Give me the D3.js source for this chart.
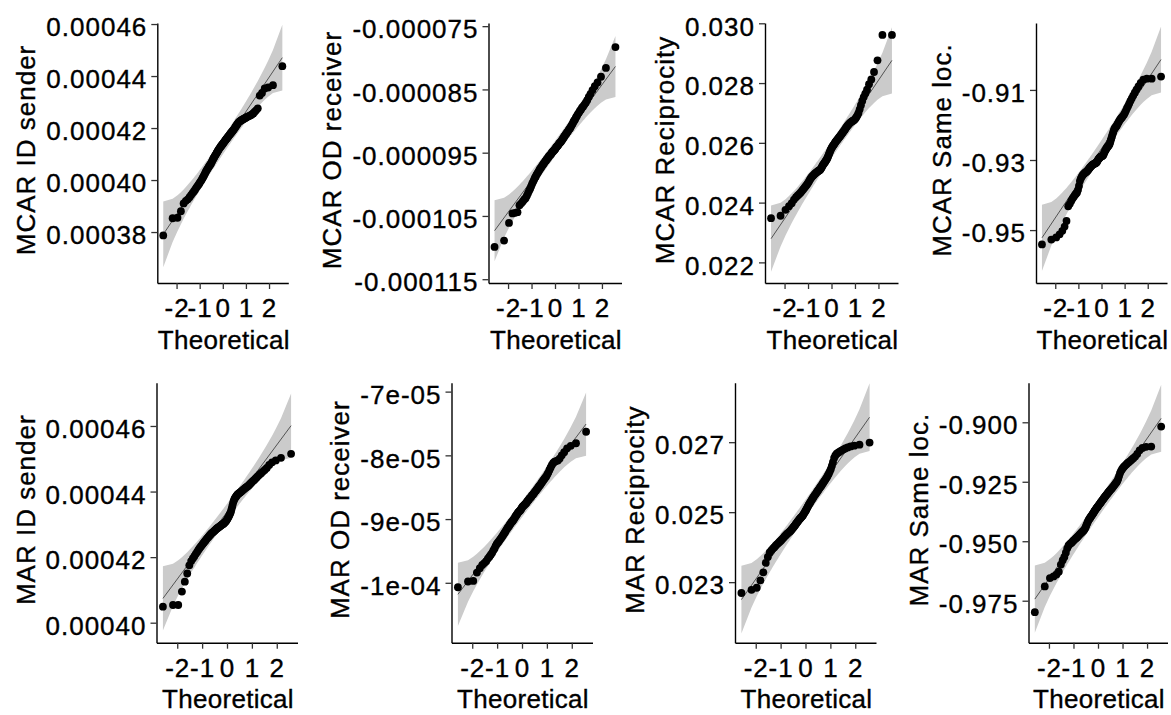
<!DOCTYPE html>
<html>
<head>
<meta charset="utf-8">
<title>Normal QQ plots, MCAR and MAR</title>
<script src="https://d3js.org/d3.v7.min.js"></script>
<style>
  body { margin: 0; background: #fff; }
  svg { display: block; background: #fff; }
  text { font-family: "Liberation Sans", Arial, sans-serif; fill: #000; }
</style>
</head>
<body>
<svg id="chart" width="1171" height="715"></svg>

<script>
// sample values, sorted, 100 per panel
// (the *_1e6 arrays are in units of 1e-6)
const mcarIdSender_1e6 = [
  378.7,385.3,385.5,388.0,391.0,392.0,392.6,393.4,394.2,395.0,
  395.6,396.3,397.0,397.6,398.1,398.7,399.3,399.8,400.4,401.0,
  401.6,402.2,402.8,403.4,403.9,404.3,404.8,405.2,405.6,406.0,
  406.4,406.9,407.4,407.9,408.4,408.8,409.2,409.6,410.0,410.4,
  410.8,411.2,411.6,411.9,412.3,412.6,412.9,413.2,413.5,413.8,
  414.1,414.4,414.7,415.0,415.3,415.6,415.9,416.2,416.5,416.8,
  417.1,417.4,417.7,418.0,418.3,418.6,418.9,419.2,419.5,419.9,
  420.3,420.7,421.1,421.5,421.9,422.3,422.5,422.7,422.9,423.1,
  423.3,423.5,423.7,423.9,424.1,424.3,424.5,424.7,424.9,425.2,
  425.6,426.2,426.8,427.6,432.5,433.5,435.2,435.6,436.5,443.8
];
const mcarOdReceiver_1e6 = [
  -109.9,-108.9,-106.1,-104.6,-104.5,-104.4,-103.3,-103.0,-102.7,-102.4,
  -102.2,-101.8,-101.4,-101.0,-100.7,-100.3,-99.9,-99.6,-99.3,-99.0,
  -98.8,-98.5,-98.3,-98.1,-97.9,-97.7,-97.5,-97.4,-97.2,-97.0,
  -96.9,-96.7,-96.6,-96.4,-96.3,-96.2,-96.0,-95.9,-95.8,-95.6,
  -95.5,-95.4,-95.3,-95.2,-95.0,-94.9,-94.8,-94.7,-94.6,-94.5,
  -94.4,-94.2,-94.1,-94.0,-93.9,-93.8,-93.6,-93.5,-93.4,-93.3,
  -93.2,-93.0,-92.9,-92.7,-92.6,-92.4,-92.3,-92.1,-92.0,-91.8,
  -91.7,-91.5,-91.3,-91.2,-91.0,-90.8,-90.6,-90.4,-90.1,-89.9,
  -89.7,-89.4,-89.2,-88.9,-88.7,-88.4,-88.2,-87.9,-87.7,-87.4,
  -87.1,-86.7,-86.2,-85.7,-85.1,-84.5,-83.9,-83.0,-81.6,-78.3
];
const mcarReciprocity = [
  0.02348,0.02356,0.02376,0.02388,0.02398,0.02410,0.02418,0.02424,0.02429,0.02434,
  0.02440,0.02445,0.02450,0.02455,0.02459,0.02464,0.02469,0.02475,0.02480,0.02484,
  0.02488,0.02490,0.02493,0.02496,0.02498,0.02500,0.02502,0.02504,0.02506,0.02507,
  0.02508,0.02510,0.02513,0.02517,0.02521,0.02525,0.02528,0.02531,0.02534,0.02537,
  0.02540,0.02543,0.02547,0.02551,0.02556,0.02561,0.02566,0.02571,0.02576,0.02580,
  0.02584,0.02587,0.02590,0.02593,0.02596,0.02599,0.02602,0.02605,0.02607,0.02610,
  0.02612,0.02615,0.02618,0.02620,0.02623,0.02626,0.02629,0.02632,0.02635,0.02638,
  0.02641,0.02644,0.02648,0.02652,0.02655,0.02658,0.02661,0.02664,0.02667,0.02669,
  0.02671,0.02673,0.02675,0.02677,0.02681,0.02686,0.02692,0.02700,0.02712,0.02726,
  0.02740,0.02753,0.02765,0.02778,0.02796,0.02812,0.02837,0.02876,0.02961,0.02961
];
const mcarSameLoc = [
  -0.9541,-0.9527,-0.9521,-0.9512,-0.9502,-0.9490,-0.9474,-0.9432,-0.9425,-0.9417,
  -0.9410,-0.9405,-0.9400,-0.9396,-0.9393,-0.9385,-0.9374,-0.9360,-0.9353,-0.9348,
  -0.9344,-0.9341,-0.9339,-0.9337,-0.9335,-0.9334,-0.9332,-0.9330,-0.9327,-0.9325,
  -0.9322,-0.9320,-0.9318,-0.9316,-0.9314,-0.9313,-0.9312,-0.9311,-0.9310,-0.9309,
  -0.9308,-0.9307,-0.9304,-0.9301,-0.9298,-0.9296,-0.9294,-0.9292,-0.9291,-0.9290,
  -0.9289,-0.9288,-0.9287,-0.9284,-0.9280,-0.9276,-0.9273,-0.9270,-0.9267,-0.9264,
  -0.9262,-0.9260,-0.9258,-0.9255,-0.9250,-0.9244,-0.9238,-0.9232,-0.9226,-0.9220,
  -0.9214,-0.9210,-0.9207,-0.9205,-0.9202,-0.9198,-0.9194,-0.9190,-0.9186,-0.9183,
  -0.9180,-0.9177,-0.9174,-0.9170,-0.9165,-0.9159,-0.9152,-0.9146,-0.9139,-0.9131,
  -0.9124,-0.9116,-0.9108,-0.9099,-0.9090,-0.9080,-0.9071,-0.9068,-0.9068,-0.9062
];
const marIdSender_1e6 = [
  404.9,405.4,405.4,409.5,412.5,415.0,417.5,418.8,419.6,420.3,
  421.0,421.6,422.2,422.7,423.2,423.6,424.0,424.4,424.8,425.1,
  425.5,425.8,426.1,426.4,426.7,426.9,427.2,427.4,427.6,427.8,
  428.0,428.2,428.4,428.6,428.8,428.9,429.1,429.2,429.4,429.5,
  429.7,429.8,430.0,430.1,430.2,430.4,430.6,430.8,431.0,431.3,
  431.6,431.9,432.3,432.7,433.1,433.5,434.1,434.8,435.6,436.4,
  437.1,437.6,438.0,438.3,438.6,438.9,439.1,439.3,439.5,439.6,
  439.8,440.0,440.2,440.4,440.6,440.8,441.0,441.2,441.4,441.6,
  441.8,442.1,442.4,442.7,443.0,443.3,443.6,444.0,444.4,444.8,
  445.2,445.6,446.1,446.6,447.2,448.1,448.9,449.5,450.3,451.5
];
const marOdReceiver_1e6 = [
  -100.7,-99.8,-99.7,-98.4,-97.7,-97.2,-96.9,-96.6,-96.2,-95.9,
  -95.6,-95.3,-94.9,-94.6,-94.2,-93.9,-93.7,-93.5,-93.3,-93.1,
  -92.9,-92.7,-92.5,-92.3,-92.1,-91.9,-91.7,-91.5,-91.3,-91.2,
  -91.0,-90.8,-90.7,-90.5,-90.4,-90.3,-90.1,-90.0,-89.8,-89.6,
  -89.5,-89.3,-89.2,-89.0,-88.9,-88.8,-88.7,-88.6,-88.4,-88.3,
  -88.1,-88.0,-87.9,-87.8,-87.7,-87.6,-87.5,-87.4,-87.2,-87.1,
  -87.0,-86.8,-86.7,-86.6,-86.5,-86.3,-86.2,-86.1,-85.9,-85.8,
  -85.6,-85.5,-85.3,-85.2,-85.0,-84.8,-84.7,-84.5,-84.3,-84.1,
  -83.9,-83.7,-83.5,-83.3,-83.0,-82.7,-82.3,-81.9,-81.5,-81.2,
  -81.0,-80.9,-80.8,-80.5,-80.0,-79.5,-78.9,-78.5,-78.1,-76.3
];
const marReciprocity = [
  0.02269,0.02278,0.02284,0.02305,0.02328,0.02355,0.02372,0.02385,0.02391,0.02396,
  0.02400,0.02404,0.02408,0.02411,0.02414,0.02417,0.02420,0.02423,0.02426,0.02429,
  0.02432,0.02434,0.02437,0.02439,0.02441,0.02443,0.02445,0.02447,0.02450,0.02452,
  0.02455,0.02457,0.02460,0.02462,0.02465,0.02468,0.02470,0.02473,0.02475,0.02478,
  0.02480,0.02482,0.02484,0.02486,0.02488,0.02490,0.02493,0.02496,0.02499,0.02502,
  0.02505,0.02508,0.02512,0.02515,0.02519,0.02522,0.02525,0.02528,0.02531,0.02534,
  0.02537,0.02540,0.02543,0.02546,0.02549,0.02551,0.02554,0.02557,0.02560,0.02563,
  0.02566,0.02569,0.02572,0.02575,0.02578,0.02582,0.02585,0.02589,0.02592,0.02596,
  0.02600,0.02605,0.02610,0.02616,0.02623,0.02632,0.02643,0.02655,0.02662,0.02667,
  0.02670,0.02673,0.02676,0.02679,0.02682,0.02685,0.02688,0.02690,0.02693,0.02699
];
const marSameLoc = [
  -0.9798,-0.9690,-0.9655,-0.9648,-0.9640,-0.9628,-0.9598,-0.9580,-0.9566,-0.9548,
  -0.9530,-0.9518,-0.9512,-0.9508,-0.9504,-0.9499,-0.9495,-0.9491,-0.9487,-0.9484,
  -0.9480,-0.9476,-0.9472,-0.9469,-0.9465,-0.9462,-0.9459,-0.9456,-0.9453,-0.9448,
  -0.9442,-0.9435,-0.9428,-0.9421,-0.9414,-0.9409,-0.9405,-0.9401,-0.9397,-0.9393,
  -0.9389,-0.9385,-0.9381,-0.9377,-0.9373,-0.9369,-0.9365,-0.9361,-0.9358,-0.9355,
  -0.9351,-0.9347,-0.9344,-0.9340,-0.9337,-0.9333,-0.9330,-0.9326,-0.9322,-0.9319,
  -0.9315,-0.9312,-0.9308,-0.9305,-0.9301,-0.9298,-0.9294,-0.9291,-0.9287,-0.9284,
  -0.9280,-0.9277,-0.9273,-0.9269,-0.9265,-0.9260,-0.9256,-0.9252,-0.9246,-0.9237,
  -0.9226,-0.9214,-0.9205,-0.9198,-0.9192,-0.9187,-0.9182,-0.9177,-0.9172,-0.9168,
  -0.9163,-0.9157,-0.9151,-0.9144,-0.9133,-0.9118,-0.9108,-0.9103,-0.9102,-0.9018
];

const panelTitles = ["MCAR ID sender", "MCAR OD receiver", "MCAR Reciprocity", "MCAR Same loc.",
                     "MAR ID sender", "MAR OD receiver", "MAR Reciprocity", "MAR Same loc."];

// y axis limits as shown in the picture
const yLimits = [
  [0.0003604, 0.0004604], [-0.0001156, -0.0000745], [0.02131, 0.03001], [-0.9651, -0.8909],
  [0.0003939, 0.0004732], [-0.0001094, -0.0000686], [0.02127, 0.0287], [-0.99265, -0.88336]
];
const yTickValues = [
  [0.00038, 0.0004, 0.00042, 0.00044, 0.00046],
  [-0.000115, -0.000105, -0.000095, -0.000085, -0.000075],
  [0.022, 0.024, 0.026, 0.028, 0.030],
  [-0.95, -0.93, -0.91],
  [0.0004, 0.00042, 0.00044, 0.00046],
  [-1e-4, -9e-5, -8e-5, -7e-5],
  [0.023, 0.025, 0.027],
  [-0.975, -0.95, -0.925, -0.9]
];
const yTickLabels = [
  ["0.00038", "0.00040", "0.00042", "0.00044", "0.00046"],
  ["-0.000115", "-0.000105", "-0.000095", "-0.000085", "-0.000075"],
  ["0.022", "0.024", "0.026", "0.028", "0.030"],
  ["-0.95", "-0.93", "-0.91"],
  ["0.00040", "0.00042", "0.00044", "0.00046"],
  ["-1e-04", "-9e-05", "-8e-05", "-7e-05"],
  ["0.023", "0.025", "0.027"],
  ["-0.975", "-0.950", "-0.925", "-0.900"]
];
const xTickValues = [-2, -1, 0, 1, 2];
const xTitle = "Theoretical";

// where each panel sits on the page
const panelBoxes = [
  { x: 157.3, y: 23, w: 131, h: 260 },
  { x: 488.5, y: 23, w: 133, h: 260 },
  { x: 765, y: 23, w: 133, h: 260 },
  { x: 1036, y: 23, w: 131, h: 260 },
  { x: 156.5, y: 382.7, w: 141, h: 260 },
  { x: 451.5, y: 382.7, w: 141, h: 260 },
  { x: 735, y: 382.7, w: 141, h: 260 },
  { x: 1028.5, y: 382.7, w: 139, h: 260 }
];

const micro = arr => arr.map(v => v * 1e-6);
const sampleValues = [
  micro(mcarIdSender_1e6), micro(mcarOdReceiver_1e6), mcarReciprocity, mcarSameLoc,
  micro(marIdSender_1e6), micro(marOdReceiver_1e6), marReciprocity, marSameLoc
];

// inverse normal cdf (Acklam)
function qnorm(p) {
  const a = [-3.969683028665376e+01, 2.209460984245205e+02, -2.759285104469687e+02,
             1.383577518672690e+02, -3.066479806614716e+01, 2.506628277459239e+00];
  const b = [-5.447609879822406e+01, 1.615858368580409e+02, -1.556989798598866e+02,
             6.680131188771972e+01, -1.328068155288572e+01];
  const c = [-7.784894002430293e-03, -3.223964580411365e-01, -2.400758277161838e+00,
             -2.549732539343734e+00, 4.374664141464968e+00, 2.938163982698783e+00];
  const d = [7.784695709041462e-03, 3.224671290700398e-01, 2.445134137142996e+00,
             3.754408661907416e+00];
  const pl = 0.02425;
  let q, r;
  if (p < pl) {
    q = Math.sqrt(-2 * Math.log(p));
    return (((((c[0]*q+c[1])*q+c[2])*q+c[3])*q+c[4])*q+c[5]) / ((((d[0]*q+d[1])*q+d[2])*q+d[3])*q+1);
  }
  if (p > 1 - pl) {
    q = Math.sqrt(-2 * Math.log(1 - p));
    return -(((((c[0]*q+c[1])*q+c[2])*q+c[3])*q+c[4])*q+c[5]) / ((((d[0]*q+d[1])*q+d[2])*q+d[3])*q+1);
  }
  q = p - 0.5; r = q * q;
  return (((((a[0]*r+a[1])*r+a[2])*r+a[3])*r+a[4])*r+a[5])*q / (((((b[0]*r+b[1])*r+b[2])*r+b[3])*r+b[4])*r+1);
}
const dnorm = z => Math.exp(-z * z / 2) / Math.sqrt(2 * Math.PI);

const svg = d3.select("#chart");
const fontSize = 26;

sampleValues.forEach((values, k) => {
  const box = panelBoxes[k];
  const n = values.length;
  const sorted = values.slice().sort(d3.ascending);

  // theoretical quantiles, ppoints style
  const pts = sorted.map((v, i) => {
    const pr = (i + 0.5) / n;
    return { p: pr, z: qnorm(pr), v: v };
  });
  const zExt = d3.extent(pts, d => d.z);
  const pad = (zExt[1] - zExt[0]) * 0.05;

  const x = d3.scaleLinear().domain([zExt[0] - pad, zExt[1] + pad]).range([0, box.w]);
  const y = d3.scaleLinear().domain(yLimits[k]).range([box.h, 0]);

  // reference line through the quartiles + pointwise 95% band
  const q1 = d3.quantile(sorted, 0.25), q3 = d3.quantile(sorted, 0.75);
  const slope = (q3 - q1) / (qnorm(0.75) - qnorm(0.25));
  const intercept = q1 - slope * qnorm(0.25);
  const band = pts.map(d => {
    const fit = intercept + slope * d.z;
    const se = slope / dnorm(d.z) * Math.sqrt(d.p * (1 - d.p) / n);
    return { z: d.z, lo: fit - 1.96 * se, hi: fit + 1.96 * se };
  });

  const g = svg.append("g").attr("transform", `translate(${box.x},${box.y})`);

  g.append("clipPath").attr("id", "clip" + k)
    .append("rect").attr("width", box.w).attr("height", box.h);

  const plot = g.append("g").attr("clip-path", `url(#clip${k})`);

  plot.append("path")
    .datum(band)
    .attr("d", d3.area().x(d => x(d.z)).y0(d => y(d.lo)).y1(d => y(d.hi)))
    .attr("fill", "#cbcbcb");

  plot.append("line")
    .attr("x1", x(zExt[0])).attr("y1", y(intercept + slope * zExt[0]))
    .attr("x2", x(zExt[1])).attr("y2", y(intercept + slope * zExt[1]))
    .attr("stroke", "#000")
    .attr("stroke-width", 0.6);

  plot.selectAll("circle")
    .data(pts)
    .enter().append("circle")
    .attr("cx", d => x(d.z))
    .attr("cy", d => y(d.v))
    .attr("r", 3.9)
    .attr("fill", "#000");

  // axes
  const yAxisG = g.append("g")
    .call(d3.axisLeft(y)
      .tickValues(yTickValues[k])
      .tickFormat((d, i) => yTickLabels[k][i])
      .tickSize(6).tickSizeOuter(0).tickPadding(4));

  const xAxisG = g.append("g")
    .attr("transform", `translate(0,${box.h})`)
    .call(d3.axisBottom(x)
      .tickValues(xTickValues)
      .tickFormat(d => String(d))
      .tickSize(6).tickSizeOuter(0).tickPadding(10));

  [yAxisG, xAxisG].forEach(a => {
    a.select(".domain").attr("stroke", "#000").attr("stroke-width", 1.4);
    a.selectAll(".tick line").attr("stroke", "#333").attr("stroke-width", 1.3);
    a.selectAll("text")
      .attr("font-family", '"Liberation Sans", Arial, sans-serif')
      .attr("font-size", fontSize)
      .attr("letter-spacing", 1)
      .attr("fill", "#000")
      .attr("stroke", "#000")
      .attr("stroke-width", 0.35);
  });
  yAxisG.selectAll("text").attr("dy", "0.45em");

  // axis titles
  g.append("text")
    .attr("x", box.w / 2 + 1)
    .attr("y", box.h + 65.5)
    .attr("text-anchor", "middle")
    .attr("font-size", fontSize)
    .attr("letter-spacing", 0.3)
    .attr("stroke", "#000")
    .attr("stroke-width", 0.35)
    .text(xTitle);

  const labelBox = yAxisG.node().getBBox();
  g.append("text")
    .attr("transform", `translate(${labelBox.x - 11},${box.h / 2 - 3}) rotate(-90)`)
    .attr("text-anchor", "middle")
    .attr("font-size", fontSize)
    .attr("letter-spacing", 1)
    .attr("stroke", "#000")
    .attr("stroke-width", 0.35)
    .text(panelTitles[k]);
});
</script>
</body>
</html>
